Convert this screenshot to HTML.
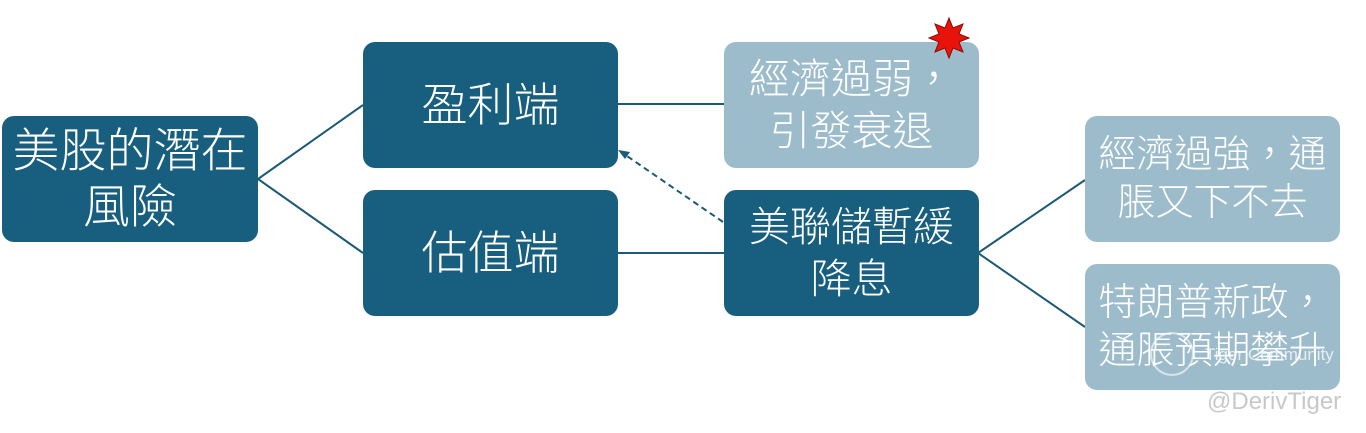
<!DOCTYPE html>
<html><head><meta charset="utf-8"><style>
body{margin:0;width:1366px;height:433px;background:#fff;position:relative;overflow:hidden;font-family:"Liberation Sans","Noto Sans CJK TC",sans-serif;}
.b{position:absolute;border-radius:12px;color:#fff;display:flex;align-items:center;justify-content:center;text-align:center;font-size:46px;line-height:56px;font-weight:300;width:255px;height:126px;}
.d{background:#185e7f;}
.l{background:#9dbccb;}
svg{position:absolute;left:0;top:0;}
</style></head><body>
<svg width="1366" height="433">
<g stroke="#1d5a75" stroke-width="2" fill="none">
<line x1="258" y1="179" x2="363" y2="105"/>
<line x1="258" y1="179" x2="363" y2="253"/>
<line x1="618" y1="104" x2="724" y2="104"/>
<line x1="618" y1="253" x2="724" y2="253"/>
<line x1="978" y1="253" x2="1085" y2="180"/>
<line x1="978" y1="253" x2="1085" y2="327"/>
<line x1="723" y1="222" x2="624" y2="154" stroke-dasharray="6,4"/>
</g>
<polygon points="618,150 630,152 625,159" fill="#1d5a75"/>
</svg>
<div class="b d" style="left:2px;top:116px;width:256px;font-size:47px">美股的潛在<br>風險</div>
<div class="b d" style="left:363px;top:42px">盈利端</div>
<div class="b d" style="left:363px;top:190px">估值端</div>
<div class="b l" style="left:724px;top:42px;font-size:41px;line-height:52px">經濟過弱，<br>引發衰退</div>
<div class="b d" style="left:724px;top:190px;font-size:41px;line-height:52px">美聯儲暫緩<br>降息</div>
<div class="b l" style="left:1085px;top:116px;font-size:38px;line-height:48px">經濟過強，通<br>脹又下不去</div>
<div class="b l" style="left:1085px;top:264px;font-size:38px;line-height:48px">特朗普新政，<br>通脹預期攀升</div>
<svg width="1366" height="433" style="z-index:5">
<polygon points="949,18 953,28 963,24 959,34 969,38 959,42 963,52 953,48 949,58 945,48 935,52 939,42 929,38 939,34 935,24 945,28" fill="#e8140c" stroke="#8a0a06" stroke-width="1"/>
</svg>
<div style="position:absolute;left:1150px;top:332px;width:40px;height:40px;border:2px solid rgba(255,255,255,.6);border-radius:50%"></div>
<div style="position:absolute;left:1205px;top:345px;font-size:17px;color:rgba(255,255,255,.75)">Tiger Community</div>
<div style="position:absolute;left:1207px;top:388px;font-size:24px;color:#c8c8c8">@DerivTiger</div>
</body></html>
